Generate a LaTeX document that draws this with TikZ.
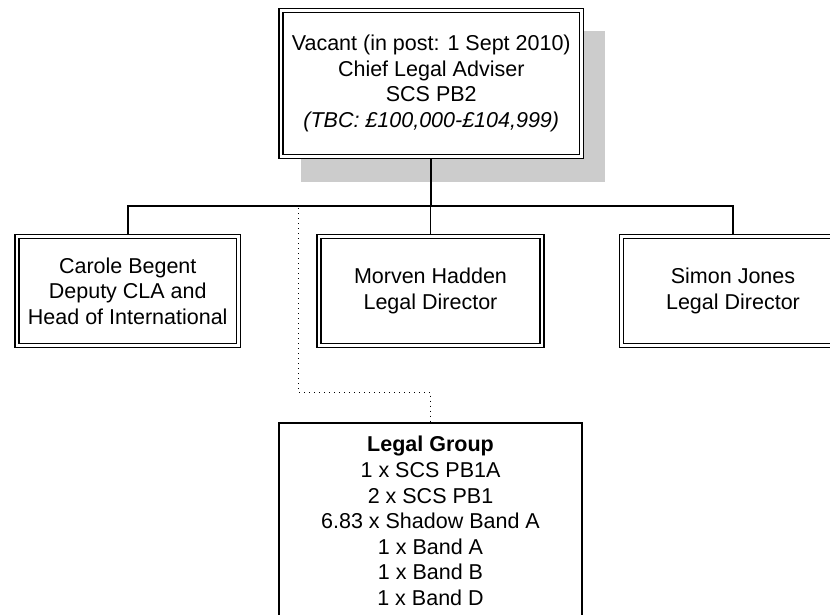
\documentclass[tikz,border=0pt]{standalone}
\usepackage{fontspec}
\setmainfont{Liberation Sans}
\usetikzlibrary{backgrounds}
\definecolor{shadowgray}{RGB}{204,204,204}
\tikzset{
  txt/.style={font=\fontsize{21.5}{25.6}\selectfont, align=center, inner sep=0pt},
  dblbox/.style={txt, draw=black, line width=1.5pt, double=white, double distance=2.5pt, fill=white, rectangle},
  grpbox/.style={txt, draw=black, line width=1.6pt, fill=white, rectangle},
  conn/.style={draw=black, line width=1.7pt},
  dotline/.style={draw=black, line width=1pt, dash pattern=on 1pt off 4pt},
}
\begin{document}
\begin{tikzpicture}[x=1pt,y=-1pt]
\useasboundingbox (0,0) rectangle (830,615);
% nodes
\node[dblbox, minimum width=300.5pt, minimum height=146pt] (top) at (431.25,83.5)
  {Vacant (in post: 1 Sept 2010)\\Chief Legal Adviser\\SCS PB2\\\textit{(TBC: £100,000-£104,999)}};
\begin{scope}[on background layer]
  \fill[shadowgray] ([shift={(21,21)}]top.north west) rectangle ([shift={(23,25)}]top.south east);
\end{scope}
\node[dblbox, minimum width=221.5pt, minimum height=109pt] (carole) at (127.75,291)
  {Carole Begent\\Deputy CLA and\\Head of International};
\node[dblbox, minimum width=223pt, minimum height=109pt] (morven) at (430.5,291)
  {Morven Hadden\\Legal Director};
\node[dblbox, minimum width=223pt, minimum height=109pt] (simon) at (733,291)
  {Simon Jones\\Legal Director};
\node[grpbox, minimum width=303pt, minimum height=196pt] (legal) at (430.5,521)
  {\textbf{Legal Group}\\1 x SCS PB1A\\2 x SCS PB1\\6.83 x Shadow Band A\\1 x Band A\\1 x Band B\\1 x Band D};
% connectors
\coordinate (bus) at (431,206);
\coordinate (d1) at (298,208);
\coordinate (d2) at (298,392);
\begin{scope}[on background layer]
\draw[conn] (top.south) -- (top.south |- bus);
\draw[conn] (carole.north) -- (carole.north |- bus) -- (simon.north |- bus) -- (simon.north);
\draw[conn] (morven.north) -- (morven.north |- bus);
\draw[dotline] (d1) -- (d2) -- (d2 -| legal.north) -- (legal.north);
\end{scope}
\end{tikzpicture}
\end{document}
